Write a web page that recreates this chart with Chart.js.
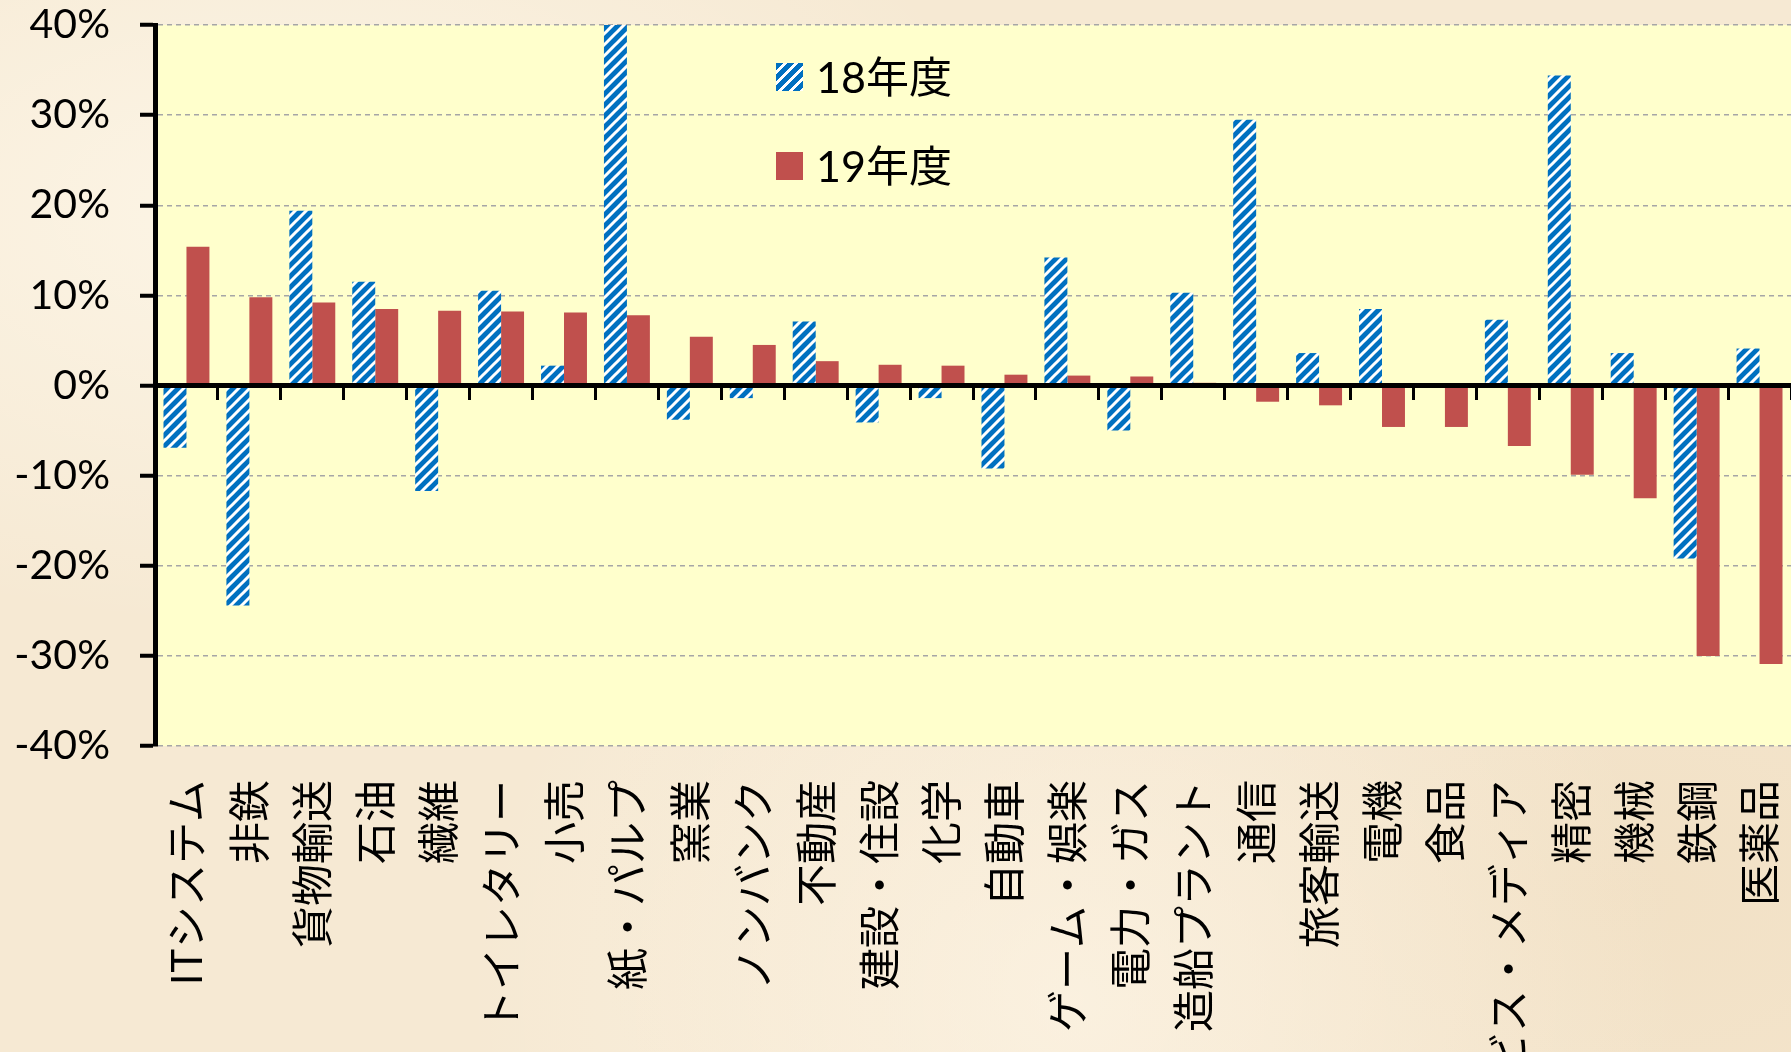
<!DOCTYPE html>
<html lang="ja">
<head>
<meta charset="utf-8">
<script src="https://cdn.jsdelivr.net/npm/chart.js@4/dist/chart.umd.min.js"></script>
<style>
  html, body { margin: 0; padding: 0; overflow: hidden; }
  body {
    width: 1791px; height: 1052px; position: relative;
    background:
      radial-gradient(ellipse at 15% 20%, rgba(255, 250, 238, .7), transparent 35%),
      radial-gradient(ellipse at 60% 95%, rgba(255, 248, 235, .6), transparent 40%),
      radial-gradient(ellipse at 90% 85%, rgba(236, 214, 180, .45), transparent 45%),
      #F6E9D3;
  }
  #chart { position: absolute; left: 0; top: 0; }
  .legend { position: absolute; left: 776px; font: 43px Lato, "Noto Sans CJK JP", sans-serif; color: #000; }
  .legend .item { position: absolute; left: 0; height: 50px; line-height: 50px; display: flex; align-items: center; white-space: nowrap; }
  .legend .box { width: 27px; height: 28px; margin-right: 13px; }
  .legend .hatch { background: repeating-linear-gradient(135deg, #0070C0 0 5.6px, #fff 5.6px 7.78px); }
  .legend .solid { background: #C0504D; }
</style>
</head>
<body>
<canvas id="chart" width="1791" height="1052"></canvas>
<div class="legend">
  <div class="item" style="top:52px"><span class="box hatch"></span><span id="lg0"></span></div>
  <div class="item" style="top:141px"><span class="box solid"></span><span id="lg1"></span></div>
</div>
<script>
// 業種別 増減率（%）
const categories = ['ITシステム', '非鉄', '貨物輸送', '石油', '繊維', 'トイレタリー', '小売', '紙・パルプ',
  '窯業', 'ノンバンク', '不動産', '建設・住設', '化学', '自動車', 'ゲーム・娯楽', '電力・ガス', '造船プラント',
  '通信', '旅客輸送', '電機', '食品', 'サービス・メディア', '精密', '機械', '鉄鋼', '医薬品'];
const seriesNames = ['18年度', '19年度'];
const fy18 = [-6.9, -24.4, 19.4, 11.5, -11.7, 10.5, 2.2, 40, -3.8, -1.4, 7.1, -4.1, -1.4, -9.2, 14.2,
  -5.0, 10.3, 29.5, 3.6, 8.5, null, 7.3, 34.4, 3.6, -19.2, 4.1];
const fy19 = [15.4, 9.8, 9.2, 8.5, 8.3, 8.2, 8.1, 7.8, 5.4, 4.5, 2.7, 2.3, 2.2, 1.2, 1.1,
  1.0, 0.3, -1.8, -2.2, -4.6, -4.6, -6.7, -9.9, -12.5, -30.0, -30.9];
const yTicks = [-40, -30, -20, -10, 0, 10, 20, 30, 40];

document.getElementById('lg0').textContent = seriesNames[0];
document.getElementById('lg1').textContent = seriesNames[1];

// 斜線ハッチング
function hatchPattern() {
  const n = 11;
  const c = document.createElement('canvas');
  c.width = n; c.height = n;
  const g = c.getContext('2d');
  g.fillStyle = '#0070C0';
  g.fillRect(0, 0, n, n);
  g.strokeStyle = '#ffffff';
  g.lineWidth = 3;
  g.beginPath();
  g.moveTo(-2, n + 2); g.lineTo(n + 2, -2);
  g.moveTo(-2, 2); g.lineTo(2, -2);
  g.moveTo(n - 2, n + 2); g.lineTo(n + 2, n - 2);
  g.stroke();
  return document.getElementById('chart').getContext('2d').createPattern(c, 'repeat');
}

const plotBg = {
  id: 'plotBg',
  beforeDraw(chart) {
    const {ctx, chartArea: a} = chart;
    ctx.save();
    ctx.fillStyle = '#FFFFCC';
    ctx.fillRect(a.left, a.top, a.right - a.left, a.bottom - a.top);
    ctx.restore();
  }
};

const numFont = {family: "Lato, 'Noto Sans CJK JP', sans-serif", size: 41};

new Chart(document.getElementById('chart'), {
  type: 'bar',
  data: {
    labels: categories,
    datasets: [
      {label: seriesNames[0], data: fy18, backgroundColor: hatchPattern(), borderWidth: 0},
      {label: seriesNames[1], data: fy19, backgroundColor: '#C0504D', borderWidth: 0}
    ]
  },
  options: {
    responsive: false,
    devicePixelRatio: 1,
    animation: false,
    layout: {padding: {top: 25, right: 0, bottom: 0, left: 0}},
    datasets: {bar: {categoryPercentage: 0.73, barPercentage: 1}},
    plugins: {legend: {display: false}, tooltip: {enabled: false}},
    scales: {
      x: {
        position: 'bottom',
        offset: true,
        grid: {display: false, drawTicks: false},
        border: {display: false},
        ticks: {
          autoSkip: false, minRotation: 90, maxRotation: 90, padding: 34, color: '#000',
          font: {family: "'Noto Sans CJK JP', sans-serif", size: 42}
        },
        afterFit: (scale) => {
          scale.height = 306;
          scale.paddingLeft = 0;
          scale.paddingRight = 0;
        }
      },
      x0: {
        type: 'category',
        position: {y: 0},
        offset: true,
        grid: {offset: true, drawOnChartArea: false, drawTicks: true, tickLength: 12, tickColor: '#000', tickWidth: 3, z: 1},
        border: {display: true, color: '#000', width: 5, z: 1},
        ticks: {display: false},
        afterFit: (scale) => {
          scale.paddingLeft = 0;
          scale.paddingRight = 0;
        }
      },
      y: {
        min: -40, max: 40,
        afterBuildTicks: (scale) => { scale.ticks = yTicks.map(v => ({value: v})); },
        grid: {color: '#A6A6A6', lineWidth: 1.5, tickColor: '#000', tickWidth: 4, tickLength: 15},
        border: {display: true, color: '#000', width: 5, dash: [5, 4]},
        ticks: {padding: 30, color: '#000', font: numFont, callback: (v) => v + '%'},
        afterFit: (scale) => {
          scale.width = 155;
          scale.paddingTop = 0;
          scale.paddingBottom = 0;
        }
      }
    }
  },
  plugins: [plotBg]
});
</script>
</body>
</html>
